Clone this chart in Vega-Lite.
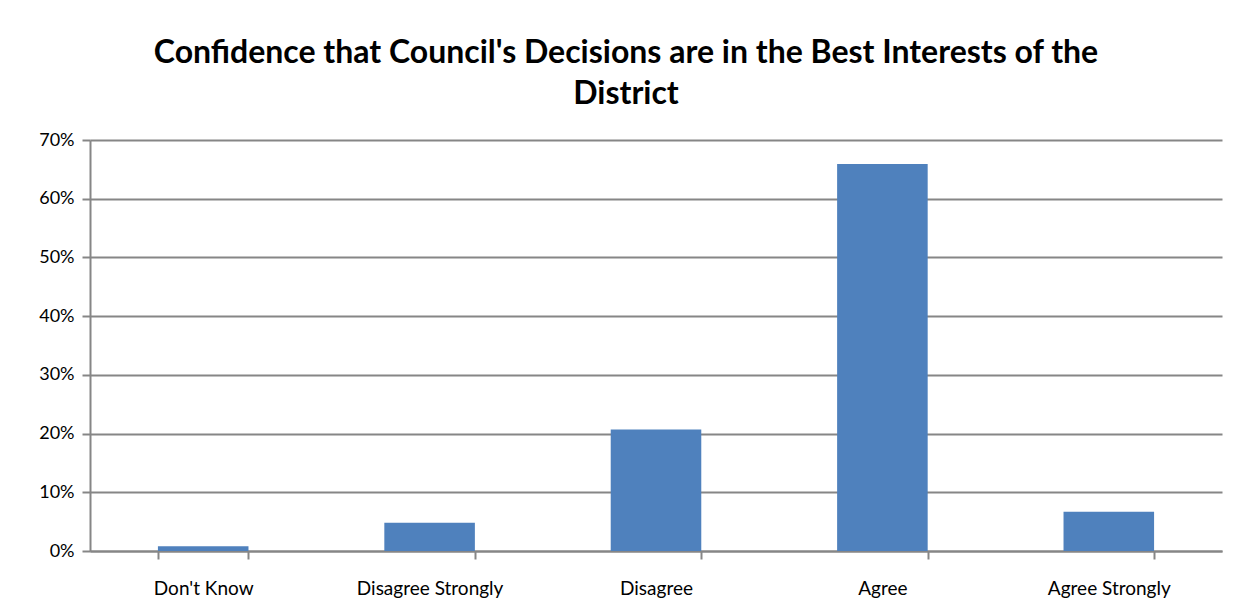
{
  "$schema": "https://vega.github.io/schema/vega-lite/v6.json",
  "width": 1132,
  "height": 411,
  "autosize": "none",
  "padding": {"left": 90, "top": 140, "right": 20, "bottom": 64},
  "background": "white",
  "title": {
    "text": ["Confidence that Council's Decisions are in the Best Interests of the", "District"],
    "font": "Lato",
    "fontSize": 32,
    "fontWeight": "bold",
    "color": "#000000",
    "anchor": "middle",
    "dx": -30,
    "lineHeight": 41,
    "offset": 20
  },
  "data": {
    "values": [
      {"response": "Don't Know", "pct": 0.008},
      {"response": "Disagree Strongly", "pct": 0.048},
      {"response": "Disagree", "pct": 0.207},
      {"response": "Agree", "pct": 0.659},
      {"response": "Agree Strongly", "pct": 0.067}
    ]
  },
  "mark": {"type": "bar", "color": "#4F81BD"},
  "encoding": {
    "x": {
      "field": "response",
      "type": "nominal",
      "sort": null,
      "scale": {"paddingInner": 0.6, "paddingOuter": 0.3},
      "axis": {
        "title": null,
        "labelAngle": 0,
        "labelFont": "Lato",
        "labelFontSize": 19,
        "labelColor": "#000000",
        "labelPadding": 20,
        "tickBand": "extent",
        "tickSize": 8,
        "tickColor": "#868686",
        "tickWidth": 2,
        "domainColor": "#868686",
        "domainWidth": 2
      }
    },
    "y": {
      "field": "pct",
      "type": "quantitative",
      "scale": {"domain": [0, 0.7], "nice": false},
      "axis": {
        "title": null,
        "values": [0, 0.1, 0.2, 0.3, 0.4, 0.5, 0.6, 0.7],
        "format": ".0%",
        "labelFont": "Lato",
        "labelFontSize": 18,
        "labelColor": "#000000",
        "labelPadding": 8,
        "tickSize": 8,
        "tickColor": "#868686",
        "tickWidth": 2,
        "domainColor": "#868686",
        "domainWidth": 2,
        "grid": true,
        "gridColor": "#868686",
        "gridWidth": 2
      }
    }
  },
  "config": {"view": {"stroke": null}}
}
